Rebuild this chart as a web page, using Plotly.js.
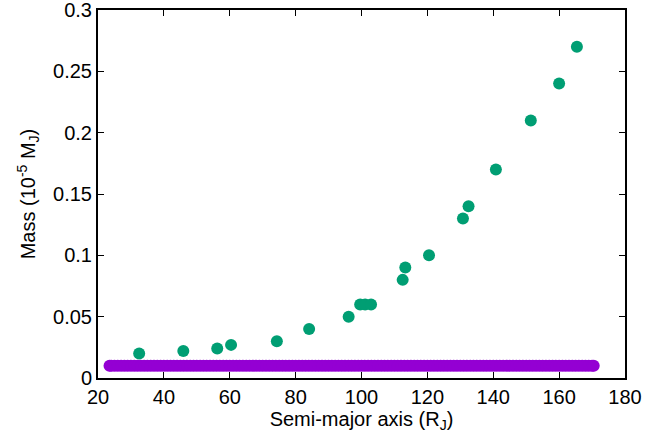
<!DOCTYPE html>
<html>
<head>
<meta charset="utf-8">
<script src="https://cdn.plot.ly/plotly-3.0.1.min.js"></script>
<style>html,body{margin:0;padding:0;background:#fff;}#chart{width:669px;height:434px;}</style>
</head>
<body>
<div id="chart"></div>
<script>
// Green series: semi-major axis (R_J) and mass (1e-5 M_J)
const greenA = [32.5, 45.9, 56.2, 60.4, 74.3, 84.1, 96.1, 99.6, 101.1, 102.9, 112.5, 113.3, 120.5, 130.8, 132.5, 140.8, 151.4, 160.0, 165.4];
const greenM = [0.020, 0.022, 0.024, 0.027, 0.030, 0.040, 0.050, 0.060, 0.060, 0.060, 0.080, 0.090, 0.100, 0.130, 0.140, 0.170, 0.210, 0.240, 0.270];

// Purple series: dense set of small bodies at constant mass
const purpleA = [23.5, 24, 25, 26, 27, 28, 29, 30, 31, 32, 33, 34, 35, 36, 37, 38, 39, 40,
  41, 42, 43, 44, 45, 46, 47, 48, 49, 50, 51, 52, 53, 54, 55, 56, 57, 58, 59, 60,
  61, 62, 63, 64, 65, 66, 67, 68, 69, 70, 71, 72, 73, 74, 75, 76, 77, 78, 79, 80,
  81, 82, 83, 84, 85, 86, 87, 88, 89, 90, 91, 92, 93, 94, 95, 96, 97, 98, 99, 100,
  101, 102, 103, 104, 105, 106, 107, 108, 109, 110, 111, 112, 113, 114, 115, 116, 117, 118, 119, 120,
  121, 122, 123, 124, 125, 126, 127, 128, 129, 130, 131, 132, 133, 134, 135, 136, 137, 138, 139, 140,
  141, 142, 143, 144, 145, 146, 147, 148, 149, 150, 151, 152, 153, 154, 155, 156, 157, 158, 159, 160,
  161, 162, 163, 164, 165, 166, 167, 168, 169, 170, 170.5];
const purpleMass = 0.01;
const purpleM = purpleA.map(() => purpleMass);

const xTicks = [20, 40, 60, 80, 100, 120, 140, 160, 180];
const yTicks = [0, 0.05, 0.1, 0.15, 0.2, 0.25, 0.3];
const yTickText = ['0', '0.05', '0.1', '0.15', '0.2', '0.25', '0.3'];

const font = {family: 'Liberation Sans', size: 20, color: '#000'};

const traces = [
  {x: purpleA, y: purpleM, type: 'scatter', mode: 'markers',
   marker: {color: '#9400d3', size: 12, line: {width: 0}}, hoverinfo: 'x+y'},
  {x: greenA, y: greenM, type: 'scatter', mode: 'markers',
   marker: {color: '#009e73', size: 12, line: {width: 0}}, hoverinfo: 'x+y'}
];

const axisCommon = {
  showline: true, linecolor: '#000', linewidth: 2, mirror: 'allticks',
  ticks: 'inside', ticklen: 6, tickwidth: 1, tickcolor: '#000',
  showgrid: false, zeroline: false, tickfont: font, ticklabeloverflow: 'allow'
};

const layout = {
  width: 669, height: 434,
  margin: {l: 98, r: 44, t: 10, b: 56},
  paper_bgcolor: '#fff', plot_bgcolor: '#fff',
  showlegend: false,
  font: font,
  xaxis: Object.assign({}, axisCommon, {
    range: [20, 180], tickmode: 'array', tickvals: xTicks,
    ticktext: xTicks.map(String),
    title: {text: 'Semi-major axis (R<sub>J</sub>)', font: font, standoff: 0}
  }),
  yaxis: Object.assign({}, axisCommon, {
    range: [0, 0.3], tickmode: 'array', tickvals: yTicks, ticktext: yTickText,
    title: {text: 'Mass (10<sup>-5</sup> M<sub>J</sub>)', font: font, standoff: 12}
  })
};

Plotly.newPlot('chart', traces, layout, {staticPlot: true, displayModeBar: false});
</script>
</body>
</html>
